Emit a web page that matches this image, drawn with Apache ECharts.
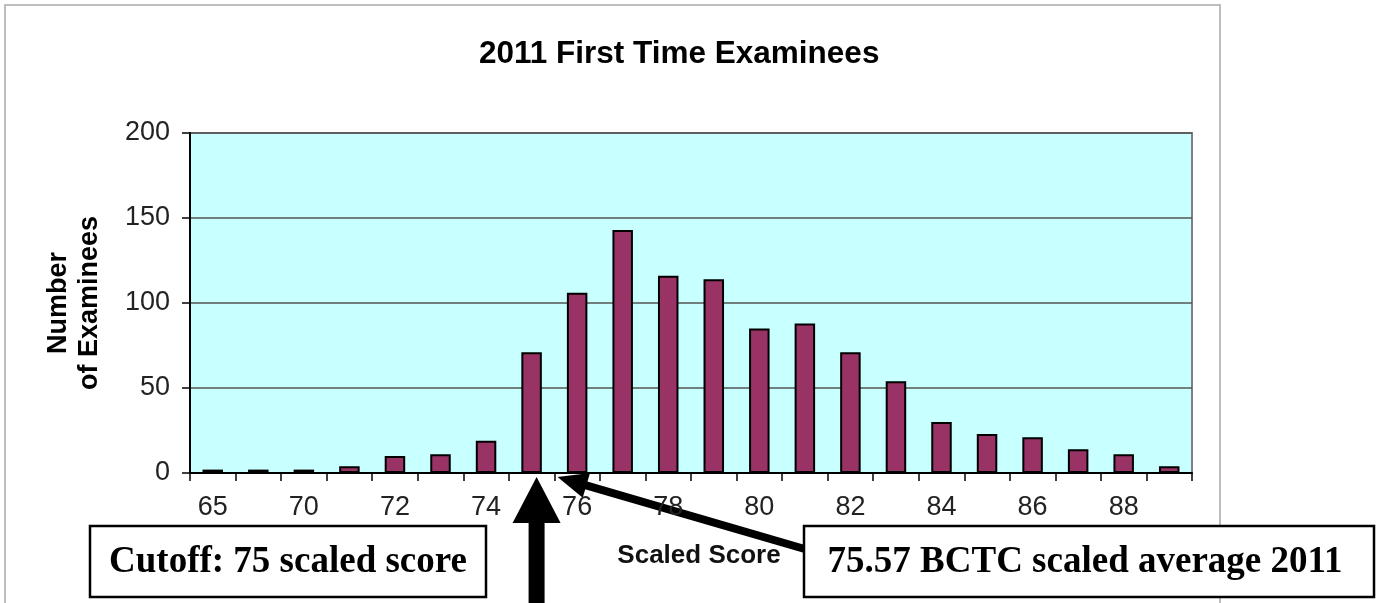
<!DOCTYPE html>
<html>
<head>
<meta charset="utf-8">
<title>2011 First Time Examinees</title>
<script src="https://cdn.jsdelivr.net/npm/echarts@6/dist/echarts.min.js"></script>
<style>
  html, body { margin: 0; padding: 0; background: #fff; }
  #chart { width: 1382px; height: 603px; }
</style>
</head>
<body>
<div id="chart"></div>
<script>
// 分数段（第二个刻度标签在原图中没有显示）
const scores = ['65', '68', '70', '71', '72', '73', '74', '75', '76', '77', '78',
  '79', '80', '81', '82', '83', '84', '85', '86', '87', '88', '89']
// 各分数段人数
const examinees = [2, 2, 2, 4, 10, 11, 19, 71, 106, 143, 116,
  114, 85, 88, 71, 54, 30, 23, 21, 14, 11, 4]
// y 轴刻度
const yTicks = [0, 50, 100, 150, 200]
// 标注
const cutoffScore = '75'
const averageScore = 75.57
const cutoffText = 'Cutoff: 75 scaled score'
const averageText = '75.57 BCTC scaled average 2011'

const sans = 'Liberation Sans, Arial, sans-serif'
const serif = 'Liberation Serif, Times New Roman, serif'

const myEcharts = echarts.init(document.getElementById('chart'))
const options = {
  animation: false,
  backgroundColor: '#fff',
  title: {
    text: '2011 First Time Examinees',
    left: 474,
    top: 33,
    textStyle: { fontFamily: sans, fontSize: 31.5, fontWeight: 'bold', color: '#000' }
  },
  grid: {
    left: 190,
    right: 190,
    top: 133,
    bottom: 130,
    show: true,
    backgroundColor: '#c8ffff',
    borderColor: '#7f7f7f',
    borderWidth: 2
  },
  xAxis: {
    type: 'category',
    data: scores,
    name: 'Scaled Score',
    nameLocation: 'middle',
    nameGap: 70,
    nameTextStyle: { fontFamily: sans, fontSize: 26, fontWeight: 'bold', color: '#111', padding: [0, 0, 0, 16] },
    axisLine: { lineStyle: { color: '#000', width: 2 } },
    axisTick: { show: true, interval: 0, length: 8, lineStyle: { color: '#000', width: 1.5 } },
    axisLabel: { interval: 1, margin: 21, fontFamily: sans, fontSize: 27, color: '#222' }
  },
  yAxis: {
    type: 'value',
    min: yTicks[0],
    max: yTicks[yTicks.length - 1],
    interval: yTicks[1] - yTicks[0],
    name: 'Number\nof Examinees',
    nameLocation: 'middle',
    nameRotate: 90,
    nameGap: 85,
    nameTextStyle: { fontFamily: sans, fontSize: 27, fontWeight: 'bold', color: '#000', lineHeight: 31 },
    axisLine: { show: true, lineStyle: { color: '#000', width: 2 } },
    axisTick: { show: true, length: 8, lineStyle: { color: '#000', width: 1.5 } },
    axisLabel: { margin: 20, fontFamily: sans, fontSize: 27, color: '#222' },
    splitLine: { lineStyle: { color: '#555', width: 1.5 } }
  },
  series: [
    {
      type: 'bar',
      data: examinees,
      barWidth: '45%',
      itemStyle: { color: '#993366', borderColor: '#000', borderWidth: 2 }
    }
  ]
}
myEcharts.setOption(options)

// 根据坐标轴换算箭头位置
const x75 = myEcharts.convertToPixel({ xAxisIndex: 0 }, cutoffScore)
const x76 = myEcharts.convertToPixel({ xAxisIndex: 0 }, String(Number(cutoffScore) + 1))
const band = x76 - x75
const xAvg = x75 + (averageScore - Number(cutoffScore)) * band
const tipY = 477

// 斜箭头
const tail = [815, 552]
const dx = tail[0] - xAvg
const dy = tail[1] - tipY
const len = Math.sqrt(dx * dx + dy * dy)
const ux = dx / len
const uy = dy / len
const headLen = 30
const headHalf = 13
const bx = xAvg + ux * headLen
const by = tipY + uy * headLen

const cutX = x75 + 5

myEcharts.setOption({
  graphic: [
    // 外框
    {
      type: 'rect',
      shape: { x: 5, y: 5, width: 1215, height: 640 },
      style: { fill: 'none', stroke: '#bdbdbd', lineWidth: 2 },
      silent: true
    },
    // 竖箭头
    {
      type: 'rect',
      shape: { x: cutX - 8, y: 520, width: 16, height: 90 },
      style: { fill: '#000' }
    },
    {
      type: 'polygon',
      shape: { points: [[cutX, tipY], [cutX - 24, 523], [cutX + 24, 523]] },
      style: { fill: '#000' }
    },
    // 斜箭头
    {
      type: 'line',
      shape: { x1: bx - ux * 2, y1: by - uy * 2, x2: tail[0], y2: tail[1] },
      style: { stroke: '#000', lineWidth: 8 }
    },
    {
      type: 'polygon',
      shape: {
        points: [
          [xAvg, tipY],
          [bx - uy * headHalf, by + ux * headHalf],
          [bx + uy * headHalf, by - ux * headHalf]
        ]
      },
      style: { fill: '#000' }
    },
    // 标注框
    {
      type: 'rect',
      shape: { x: 90, y: 526, width: 396, height: 71 },
      style: { fill: '#fff', stroke: '#000', lineWidth: 2.5 }
    },
    {
      type: 'text',
      x: 288,
      y: 562,
      style: {
        text: cutoffText,
        fontFamily: serif,
        fontSize: 37,
        fontWeight: 'bold',
        fill: '#000',
        align: 'center',
        verticalAlign: 'middle'
      }
    },
    {
      type: 'rect',
      shape: { x: 804, y: 526, width: 570, height: 71 },
      style: { fill: '#fff', stroke: '#000', lineWidth: 2.5 }
    },
    {
      type: 'text',
      x: 1085,
      y: 562,
      style: {
        text: averageText,
        fontFamily: serif,
        fontSize: 37,
        fontWeight: 'bold',
        fill: '#000',
        align: 'center',
        verticalAlign: 'middle'
      }
    }
  ]
})
</script>
</body>
</html>
